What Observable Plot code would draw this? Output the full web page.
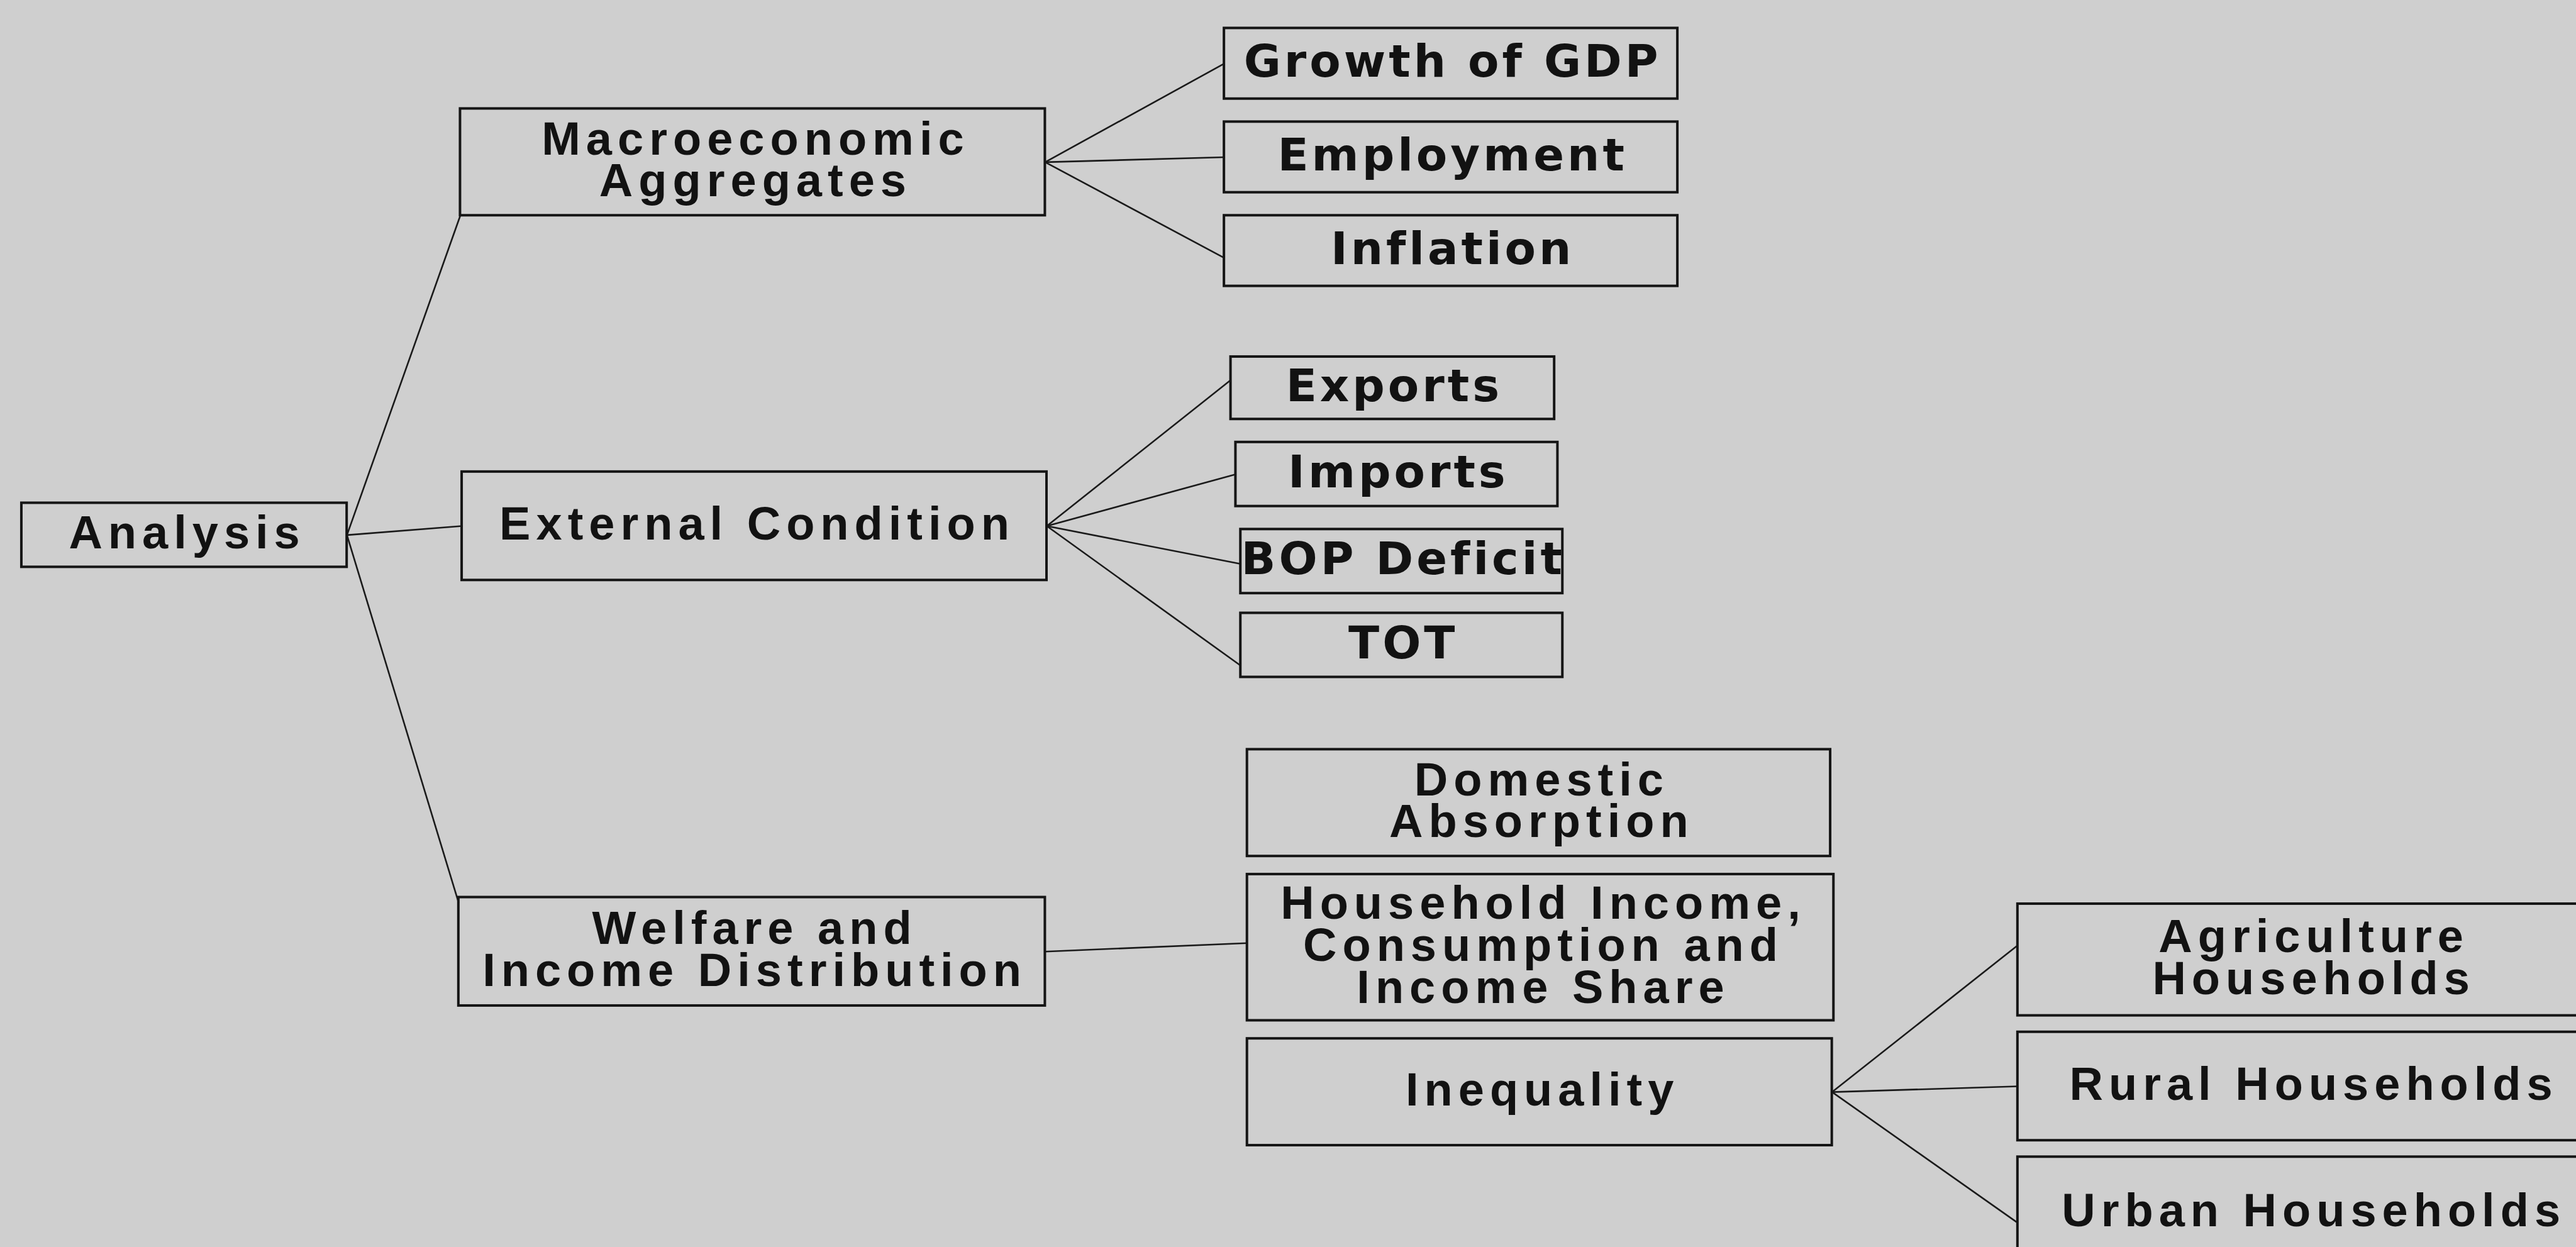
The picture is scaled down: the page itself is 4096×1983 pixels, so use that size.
<!DOCTYPE html>
<html>
<head>
<meta charset="utf-8">
<script src="https://cdn.jsdelivr.net/npm/d3@7"></script>
<script src="https://cdn.jsdelivr.net/npm/@observablehq/plot@0.6"></script>
<style>
  html, body { margin: 0; padding: 0; background: #cfcfcf; overflow: hidden; }
  #chart g[font-family="DejaVu Sans"] text { letter-spacing: 5px; }
  #chart g[font-family="Liberation Sans"] text { letter-spacing: 9px; }
</style>
</head>
<body>
<div id="chart"></div>
<script>
// Node labels (tree diagram)
const nodeLabels = [
  "Analysis",
  "Macroeconomic\nAggregates",
  "External Condition",
  "Welfare and\nIncome Distribution",
  "Growth of GDP",
  "Employment",
  "Inflation",
  "Exports",
  "Imports",
  "BOP Deficit",
  "TOT",
  "Domestic\nAbsorption",
  "Household Income,\nConsumption and\nIncome Share",
  "Inequality",
  "Agriculture\nHouseholds",
  "Rural Households",
  "Urban Households"
];
// Typeface group of each label: "wide" (broad bold face) or "plain"
const labelFace = ["plain", "plain", "plain", "plain", "wide", "wide", "wide", "wide", "wide", "wide", "wide",
                   "plain", "plain", "plain", "plain", "plain", "plain"];
// Box layout (diagram units)
const boxLeft   = [13, 280, 281, 279, 745, 745, 745, 749, 752, 755, 755, 759, 759, 759, 1228, 1228, 1228];
const boxRight  = [211, 636, 637, 636, 1021, 1021, 1021, 946, 948, 951, 951, 1114, 1116, 1115, 1585, 1585, 1585];
const boxTop    = [306, 66, 287, 546, 17, 74, 131, 217, 269, 322, 373, 456, 532, 632, 550, 628, 704];
const boxBottom = [345, 131, 353, 612, 60, 117, 174, 255, 308, 361, 412, 521, 621, 697, 618, 694, 772];

// Links: parent -> child, with where on the child's left edge the line lands (0 top, 1 bottom)
const linkFrom   = [0, 0, 0, 1, 1, 1, 2, 2, 2, 2, 3, 13, 13, 13];
const linkTo     = [1, 2, 3, 4, 5, 6, 7, 8, 9, 10, 12, 14, 15, 16];
const linkAnchor = [1, 0.5, 0.05, 0.5, 0.5, 0.6, 0.37, 0.5, 0.54, 0.82, 0.47, 0.37, 0.5, 0.59];

const nodes = nodeLabels.map((label, i) => ({
  label, face: labelFace[i],
  x1: boxLeft[i], x2: boxRight[i], y1: boxTop[i], y2: boxBottom[i],
  cx: (boxLeft[i] + boxRight[i]) / 2, cy: (boxTop[i] + boxBottom[i]) / 2
}));
const links = linkFrom.map((f, i) => {
  const p = nodes[f], c = nodes[linkTo[i]];
  return {
    x1: p.x2, y1: p.cy,
    x2: c.x1, y2: c.y1 + linkAnchor[i] * (c.y2 - c.y1)
  };
});

const W = 4096, H = 1983;
const chart = Plot.plot({
  width: W, height: H,
  margin: 0,
  x: {domain: [0, 1568], range: [0, W], axis: null},
  y: {domain: [0, 759], range: [0, H], axis: null},
  style: {background: "#cfcfcf", color: "#141414", overflow: "hidden"},
  marks: [
    Plot.link(links, {x1: "x1", y1: "y1", x2: "x2", y2: "y2", stroke: "#1a1a1a", strokeWidth: 2.6}),
    Plot.rect(nodes, {x1: "x1", x2: "x2", y1: "y1", y2: "y2", fill: "none", stroke: "#151515", strokeWidth: 4}),
    Plot.text(nodes.filter(d => d.face === "plain"), {
      x: "cx", y: "cy", text: "label", dx: 4.5,
      fontSize: 74, fontWeight: "bold", fontFamily: "Liberation Sans",
      lineHeight: 0.9, lineAnchor: "middle", textAnchor: "middle", fill: "#121212"
    }),
    Plot.text(nodes.filter(d => d.face === "wide"), {
      x: "cx", y: "cy", text: "label", dx: 2.5,
      fontSize: 72, fontWeight: "bold", fontFamily: "DejaVu Sans",
      lineHeight: 0.9, lineAnchor: "middle", textAnchor: "middle", fill: "#121212"
    })
  ]
});
document.getElementById("chart").appendChild(chart);
</script>
</body>
</html>
